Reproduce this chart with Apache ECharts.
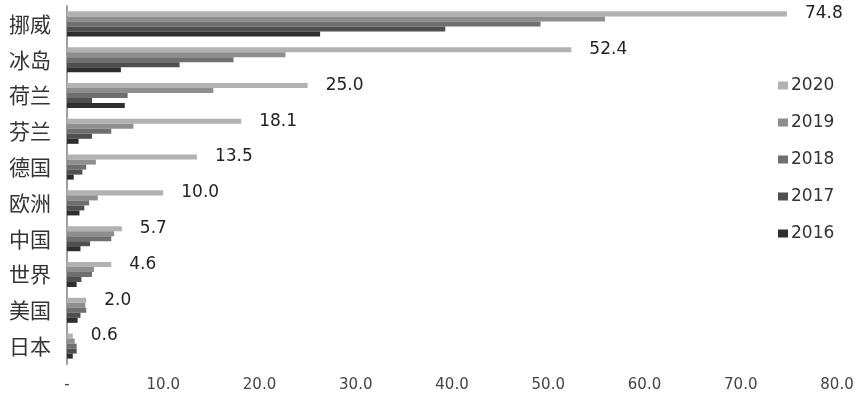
<!DOCTYPE html>
<html><head><meta charset="utf-8">
<script src="https://cdn.jsdelivr.net/npm/echarts@6/dist/echarts.min.js"></script>
<style>html,body{margin:0;padding:0;background:#fff}#c{width:868px;height:394px}</style>
</head><body><div id="c"></div>
<script>
const categories = ['挪威','冰岛','荷兰','芬兰','德国','欧洲','中国','世界','美国','日本'];
const seriesNames = ['2020','2019','2018','2017','2016'];
const v2020 = [74.8, 52.4, 25.0, 18.1, 13.5, 10.0, 5.7, 4.6, 2.0, 0.6];
const v2019 = [55.9, 22.7, 15.2, 6.9, 3.0, 3.2, 4.9, 2.8, 1.9, 0.8];
const v2018 = [49.2, 17.3, 6.3, 4.6, 2.0, 2.3, 4.6, 2.6, 2.0, 1.0];
const v2017 = [39.3, 11.7, 2.6, 2.6, 1.6, 1.8, 2.4, 1.5, 1.4, 1.0];
const v2016 = [26.3, 5.6, 6.0, 1.2, 0.7, 1.3, 1.4, 1.0, 1.1, 0.6];
const values = [v2020, v2019, v2018, v2017, v2016];
const colors = ['#b2b2b2', '#8e8e8e', '#6f6f6f', '#4f4f4f', '#2e2e2e'];

const chart = echarts.init(document.getElementById('c'), null, {renderer: 'canvas'});
chart.setOption({
  animation: false,
  color: colors,
  grid: {left: 67, right: 31, top: 6, bottom: 30, containLabel: false},
  legend: {
    orient: 'vertical', left: 773, top: 72,
    itemWidth: 10, itemHeight: 8, itemGap: 20,
    icon: 'rect',
    textStyle: {fontFamily: 'DejaVu Sans', fontSize: 17, color: '#333', padding: [0,0,0,-2]},
    data: seriesNames
  },
  xAxis: {
    type: 'value', min: 0, max: 80, interval: 10,
    axisLine: {show: false}, axisTick: {show: false}, splitLine: {show: false},
    axisLabel: {
      fontFamily: 'DejaVu Sans', fontSize: 15, color: '#444', margin: 14,
      formatter: v => v === 0 ? '-' : v.toFixed(1)
    }
  },
  yAxis: {
    type: 'category', data: categories, inverse: true,
    axisLine: {show: true, lineStyle: {color: '#a0a0a0', width: 2}},
    axisTick: {show: false},
    axisLabel: {fontFamily: 'Noto Sans CJK SC', fontSize: 21, color: '#333', margin: 16}
  },
  series: seriesNames.map((n, i) => ({
    name: n, type: 'bar', data: values[i],
    barGap: '0%', barCategoryGap: '30%',
    itemStyle: {color: colors[i]},
    label: i === 0 ? {
      show: true, position: 'right', distance: 18,
      fontFamily: 'DejaVu Sans', fontSize: 17, color: '#222',
      formatter: p => p.value.toFixed(1)
    } : {show: false}
  }))
});
</script></body></html>
